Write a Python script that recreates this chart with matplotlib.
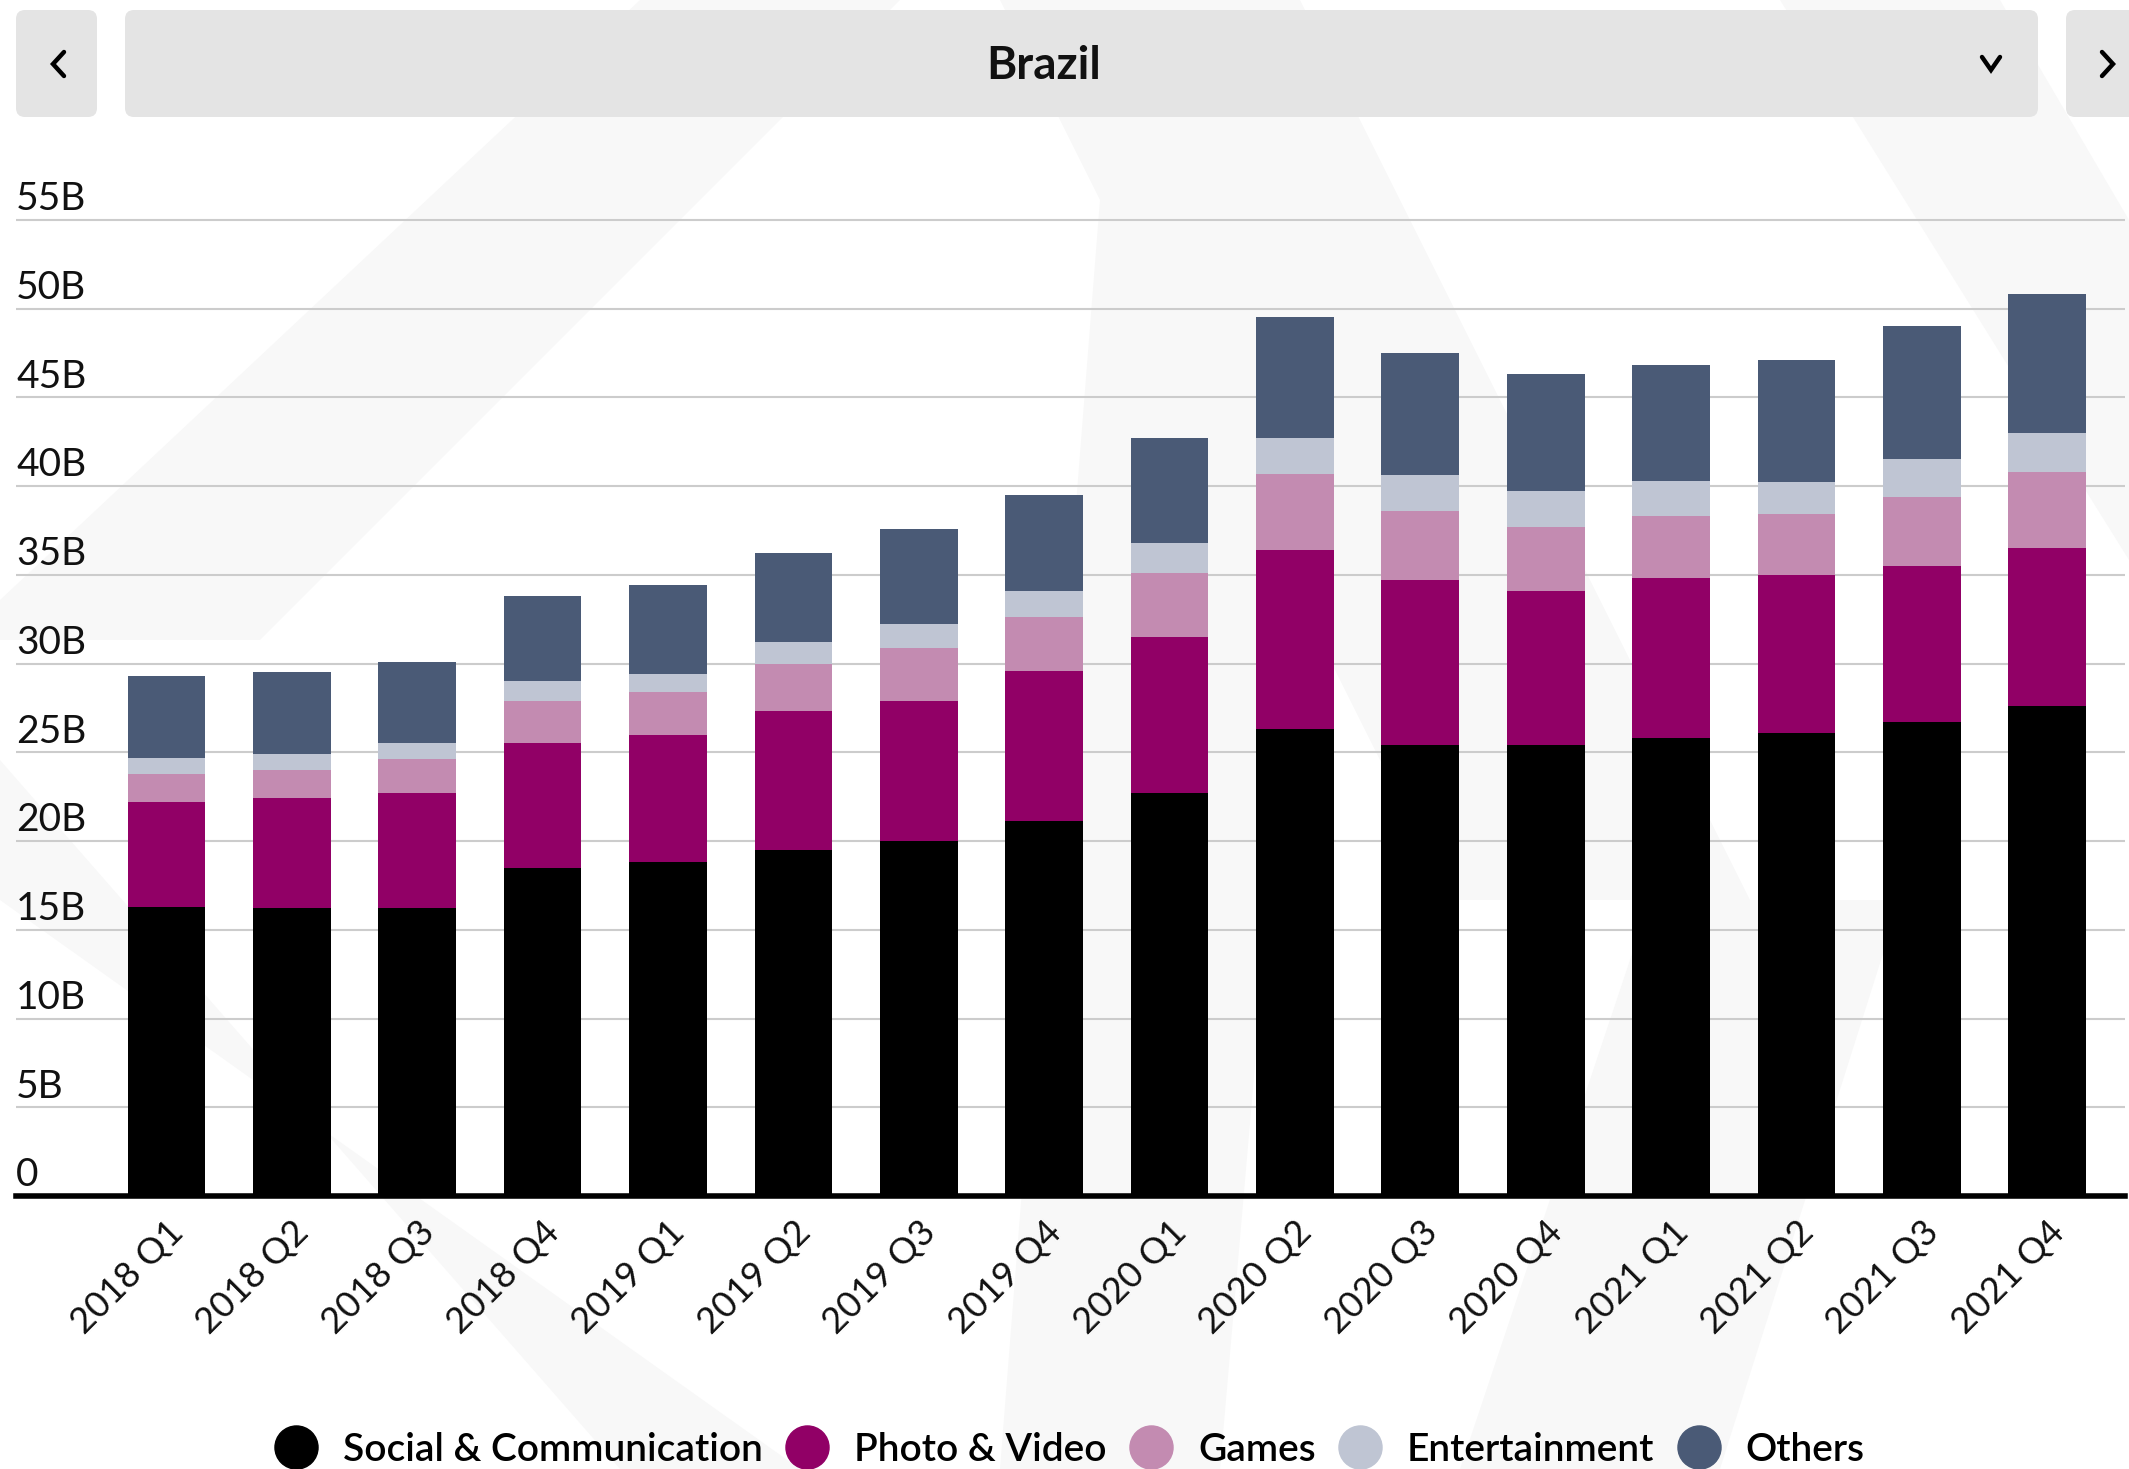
import matplotlib.pyplot as plt
import matplotlib.transforms as mtransforms
from matplotlib.patches import FancyBboxPatch, Polygon
from matplotlib.lines import Line2D
import numpy as np

plt.rcParams['font.family'] = ['Lato', 'DejaVu Sans']

quarters = ['2018 Q1', '2018 Q2', '2018 Q3', '2018 Q4',
            '2019 Q1', '2019 Q2', '2019 Q3', '2019 Q4',
            '2020 Q1', '2020 Q2', '2020 Q3', '2020 Q4',
            '2021 Q1', '2021 Q2', '2021 Q3', '2021 Q4']

# values in billions
social = [16.3, 16.2, 16.2, 18.5, 18.8, 19.5, 20.0, 21.1,
          22.7, 26.3, 25.4, 25.4, 25.8, 26.1, 26.7, 27.6]
photo = [5.9, 6.2, 6.5, 7.0, 7.2, 7.8, 7.9, 8.5,
         8.8, 10.1, 9.3, 8.7, 9.0, 8.9, 8.8, 8.9]
games = [1.6, 1.6, 1.9, 2.4, 2.4, 2.7, 3.0, 3.0,
         3.6, 4.3, 3.9, 3.6, 3.5, 3.4, 3.9, 4.3]
entertainment = [0.9, 0.9, 0.9, 1.1, 1.0, 1.2, 1.3, 1.5,
                 1.7, 2.0, 2.0, 2.0, 2.0, 1.8, 2.1, 2.2]
others = [4.6, 4.6, 4.6, 4.8, 5.0, 5.0, 5.4, 5.4,
          5.9, 6.8, 6.9, 6.6, 6.5, 6.9, 7.5, 7.8]

series_names = ['Social & Communication', 'Photo & Video', 'Games',
                'Entertainment', 'Others']
colors = ['#000000', '#910066', '#c38bb1', '#bfc5d3', '#4a5a76']

yticks = [0, 5, 10, 15, 20, 25, 30, 35, 40, 45, 50, 55]
ytick_labels = ['0', '5B', '10B', '15B', '20B', '25B', '30B', '35B',
                '40B', '45B', '50B', '55B']

W, H = 2129, 1469
fig = plt.figure(figsize=(W / 100, H / 100), dpi=100)
fig.patch.set_facecolor('white')

def fx(px):
    return px / W
def fy(py):
    return 1 - py / H

# faint watermark in a background axes (pixel coords, y down)
bg = fig.add_axes([0, 0, 1, 1], zorder=-10)
bg.set_xlim(0, W)
bg.set_ylim(H, 0)
bg.axis('off')
wm = '#f8f8f8'
for pts in [
    [(640, 0), (900, 0), (260, 640), (0, 640), (0, 600)],
    [(1000, 0), (1300, 0), (1750, 900), (1450, 900)],
    [(1780, 0), (2000, 0), (2129, 220), (2129, 560)],
    [(0, 760), (0, 900), (800, 1469), (620, 1469)],
    [(1100, 200), (1330, 200), (1220, 1469), (1000, 1469)],
    [(1650, 900), (1900, 900), (1720, 1469), (1460, 1469)],
]:
    bg.add_patch(Polygon(pts, closed=True, facecolor=wm, edgecolor='none'))

# header boxes
box_col = '#e4e4e4'
for x0, x1 in [(16, 97), (125, 2038), (2066, 2160)]:
    bg.add_patch(FancyBboxPatch((x0, 10), x1 - x0, 107,
                                boxstyle='round,pad=0,rounding_size=9',
                                facecolor=box_col, edgecolor='none'))
fig.text(fx(1044), fy(66), 'Brazil', ha='center', va='center', fontsize=33,
         fontweight='bold', color='#111111')

def chevron(pts):
    bg.plot([p[0] for p in pts], [p[1] for p in pts], color='black',
            linewidth=3.2, solid_capstyle='round', solid_joinstyle='miter')
chevron([(64, 52), (53, 64), (64, 76)])
chevron([(1982, 57), (1991, 70), (2000, 57)])
chevron([(2102, 52), (2113, 64), (2102, 76)])

# chart
ax = fig.add_axes([fx(16), 1 - 1196 / H, fx(2125 - 16), (1196 - 202) / H])
ax.set_facecolor('none')
x = np.arange(len(quarters))
bottom = np.zeros(len(quarters))
for name, vals, c in zip(series_names, [social, photo, games, entertainment, others], colors):
    ax.bar(x, vals, bottom=bottom, width=0.62, color=c, label=name, zorder=3)
    bottom += np.array(vals)

ax.set_xlim(-1.2, 15.62)
ax.set_ylim(0, 56)
ax.set_yticks(yticks)
ax.set_yticklabels([])
ax.tick_params(axis='y', length=0)
ax.yaxis.grid(True, color='#cccccc', linewidth=1.5, zorder=1)
for s in ['top', 'right', 'left']:
    ax.spines[s].set_visible(False)
ax.spines['bottom'].set_color('black')
ax.spines['bottom'].set_linewidth(4)
ax.spines['bottom'].set_zorder(4)

trans = mtransforms.blended_transform_factory(ax.transAxes, ax.transData)
for v, lab in zip(yticks, ytick_labels):
    ax.annotate(lab, (0, v), xycoords=trans, xytext=(0, 7), textcoords='offset points',
                ha='left', va='baseline', fontsize=28, fontweight='normal', color='#111111')

ax.set_xticks(x)
ax.set_xticklabels(quarters, rotation=45, ha='right', rotation_mode='anchor',
                   fontsize=26, fontweight='normal', color='#111111')
ax.tick_params(axis='x', length=0, pad=14)

handles = [Line2D([], [], marker='o', linestyle='none', markersize=31,
                  markerfacecolor=c, markeredgecolor=c) for c in colors]
fig.legend(handles, series_names, loc='center', bbox_to_anchor=(0.502, fy(1450)),
           ncol=5, frameon=False, handletextpad=0.6, columnspacing=0.55,
           handlelength=1.2, prop={'weight': 'semibold', 'size': 28})

fig.savefig('out.png', dpi=100)
